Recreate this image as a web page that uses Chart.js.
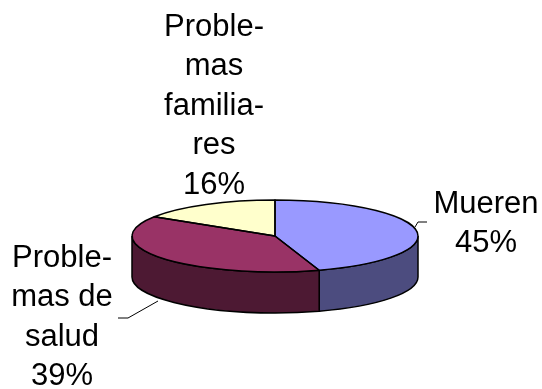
<!DOCTYPE html>
<html>
<head>
<meta charset="utf-8">
<script src="https://cdn.jsdelivr.net/npm/chart.js@4/dist/chart.umd.min.js"></script>
<style>
  html, body { margin: 0; background: #fff; }
  #wrap { width: 542px; height: 389px; }
</style>
</head>
<body>
<div id="wrap"><canvas id="tarta"></canvas></div>
<script>
// categorias partidas en lineas, tal como se muestran
const categorias = [['Mueren'], ['Proble-', 'mas de', 'salud'], ['Proble-', 'mas', 'familia-', 'res']];
const porcentajes = [45, 39, 16];

const coloresCara = ['#9999FF', '#993366', '#FFFFCC'];
const coloresLado = ['#4C4C7F', '#4D1933', '#80805F'];

// centro x y primera linea de cada etiqueta
const posEtiquetas = [[486, 204], [62, 258], [214, 27]];
// lineas guia
const guias = [
  [[415, 227], [418, 222], [427, 222]],
  [[118, 318], [128, 318], [158, 301]]
];

const CENTRO_Y = 236;   // centro de la cara superior
const RADIO_Y = 36;     // semieje vertical de la elipse
const GROSOR = 41;      // altura del canto
const FUENTE = '31px "Liberation Sans", Arial, sans-serif';
const INTERLINEA = 39.5;

const tarta3d = {
  id: 'tarta3d',
  beforeDatasetsDraw(chart) {
    const ctx = chart.ctx;
    const arcos = chart.getDatasetMeta(0).data;
    const { x, y, outerRadius: r } = arcos[0];

    // canto frontal (solo la mitad visible, angulos 0..PI)
    ctx.save();
    ctx.lineWidth = 1.5;
    ctx.strokeStyle = '#000';
    arcos.forEach((a, i) => {
      const lo = Math.max(a.startAngle, 0);
      const hi = Math.min(a.endAngle, Math.PI);
      if (hi <= lo) return;
      ctx.beginPath();
      ctx.ellipse(x, CENTRO_Y, r, RADIO_Y, 0, lo, hi);
      ctx.ellipse(x, CENTRO_Y + GROSOR, r, RADIO_Y, 0, hi, lo, true);
      ctx.closePath();
      ctx.fillStyle = coloresLado[i];
      ctx.fill();
      ctx.stroke();
    });
    ctx.restore();

    // aplastar la cara superior
    ctx.save();
    ctx.translate(0, CENTRO_Y);
    ctx.scale(1, RADIO_Y / r);
    ctx.translate(0, -y);
  },
  afterDatasetsDraw(chart) {
    const ctx = chart.ctx;
    ctx.restore();
    const arcos = chart.getDatasetMeta(0).data;
    const { x, outerRadius: r } = arcos[0];

    // contornos de la cara superior
    ctx.save();
    ctx.lineWidth = 1.5;
    ctx.strokeStyle = '#000';
    ctx.lineJoin = 'round';
    arcos.forEach(a => {
      ctx.beginPath();
      ctx.moveTo(x, CENTRO_Y);
      ctx.lineTo(x + r * Math.cos(a.startAngle), CENTRO_Y + RADIO_Y * Math.sin(a.startAngle));
      ctx.ellipse(x, CENTRO_Y, r, RADIO_Y, 0, a.startAngle, a.endAngle);
      ctx.closePath();
      ctx.stroke();
    });

    // lineas guia
    ctx.lineWidth = 1;
    guias.forEach(g => {
      ctx.beginPath();
      g.forEach((p, k) => k ? ctx.lineTo(p[0], p[1]) : ctx.moveTo(p[0], p[1]));
      ctx.stroke();
    });

    // etiquetas
    ctx.font = FUENTE;
    ctx.fillStyle = '#000';
    ctx.textAlign = 'center';
    ctx.textBaseline = 'middle';
    chart.data.labels.forEach((lab, i) => {
      const lineas = lab.concat(chart.data.datasets[0].data[i] + '%');
      const [px, py] = posEtiquetas[i];
      lineas.forEach((t, k) => ctx.fillText(t, px, py + k * INTERLINEA));
    });
    ctx.restore();
  }
};

new Chart(document.getElementById('tarta'), {
  type: 'pie',
  data: {
    labels: categorias,
    datasets: [{
      data: porcentajes,
      backgroundColor: coloresCara,
      borderWidth: 0
    }]
  },
  options: {
    responsive: true,
    maintainAspectRatio: false,
    animation: false,
    events: [],
    layout: { padding: { left: 132, right: 124, top: 50, bottom: 53 } },
    plugins: { legend: { display: false }, tooltip: { enabled: false } }
  },
  plugins: [tarta3d]
});
</script>
</body>
</html>
